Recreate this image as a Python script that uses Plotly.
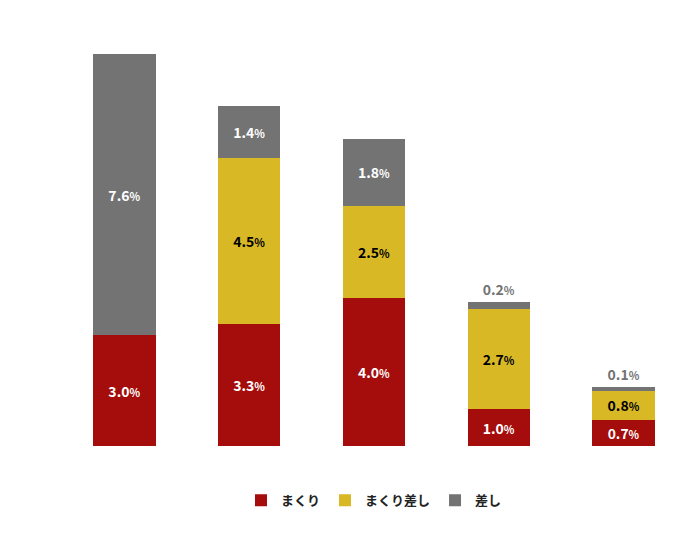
import plotly.graph_objects as go

cats = ["A", "B", "C", "D", "E"]
makuri = [3.0, 3.3, 4.0, 1.0, 0.7]
makuri_sashi = [0, 4.5, 2.5, 2.7, 0.8]
sashi = [7.6, 1.4, 1.8, 0.2, 0.1]

def lab(v):
    return [f"<b>{x:.1f}<span style='font-size:11px'>%</span></b>" if x > 0 else "" for x in v]

F = "Noto Sans CJK JP"
fig = go.Figure()
fig.add_bar(x=cats, y=makuri, name="まくり", marker_color="#A50C0C", marker_line_width=0,
            text=lab(makuri), textposition="inside", insidetextanchor="middle",
            textfont=dict(color="white", size=14, family=F))
fig.add_bar(x=cats, y=makuri_sashi, name="まくり差し", marker_color="#D9B826", marker_line_width=0,
            text=lab(makuri_sashi), textposition="inside", insidetextanchor="middle",
            textfont=dict(color="black", size=14, family=F))
fig.add_bar(x=cats, y=sashi, name="差し", marker_color="#737373", marker_line_width=0,
            text=lab(sashi), textposition=["inside"]*3 + ["outside"]*2,
            insidetextanchor="middle",
            textfont=dict(color=["white"]*3 + ["#737373"]*2, size=14, family=F),
            cliponaxis=False)
fig.update_layout(
    barmode="stack", bargap=0.5, width=688, height=545,
    margin=dict(l=54, r=10, t=46, b=107),
    plot_bgcolor="white", paper_bgcolor="white",
    font=dict(family=F, size=13, color="#222"),
    xaxis=dict(visible=False),
    yaxis=dict(visible=False, range=[0, 10.6]),
    legend=dict(orientation="h", x=0.5, xanchor="center", y=-0.1, yanchor="top",
                font=dict(size=13, family=F, weight="bold"), traceorder="normal"),
)
fig.write_html("out.html")
